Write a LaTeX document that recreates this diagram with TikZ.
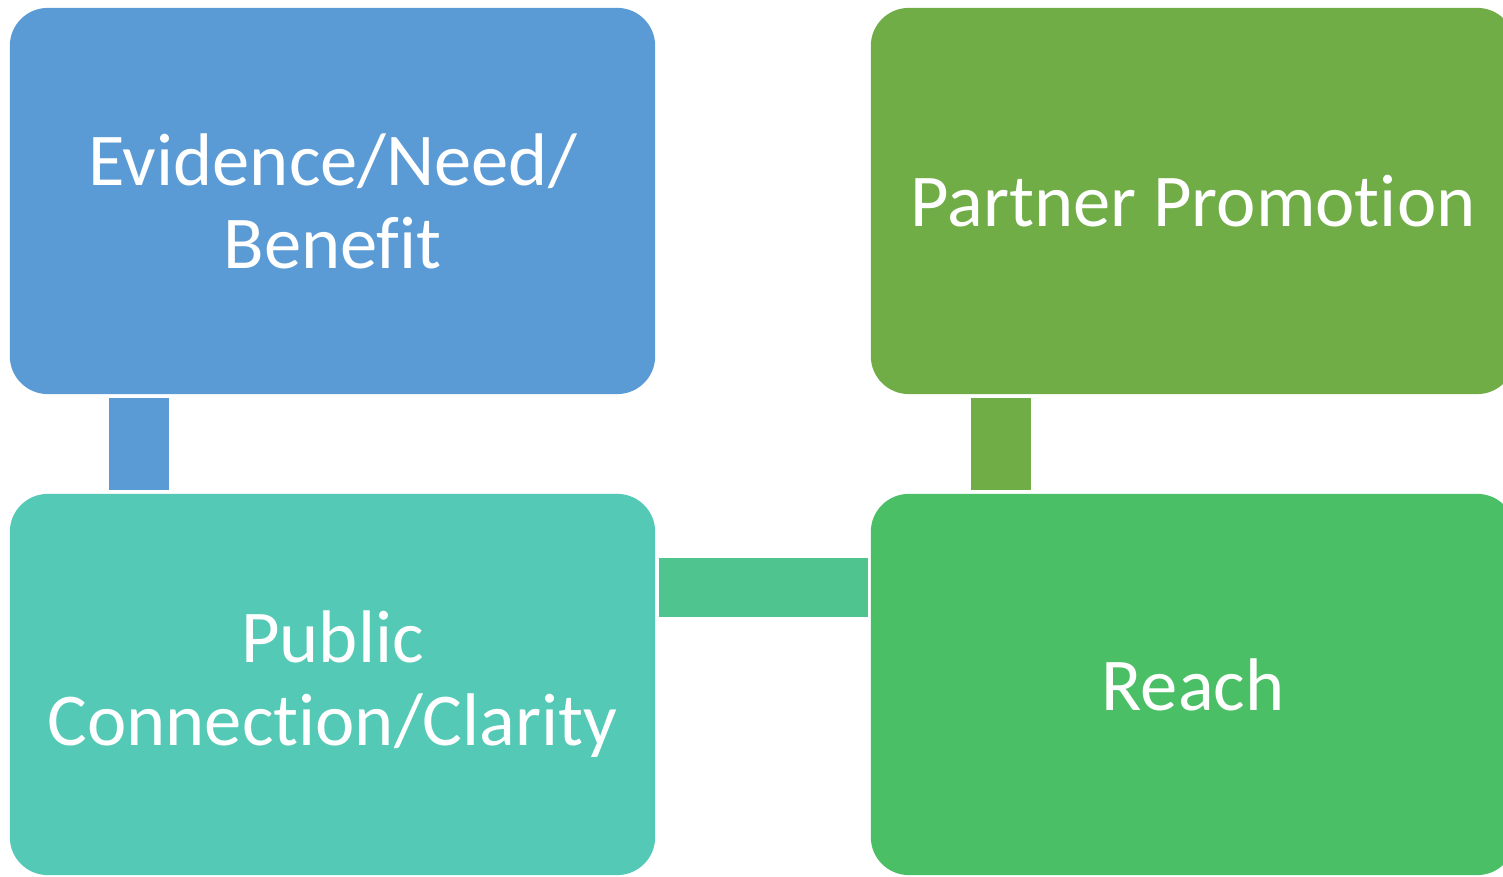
\documentclass[tikz,border=0pt]{standalone}
\usepackage{fontspec}
\setmainfont{Carlito}[Ligatures=NoCommon]
\definecolor{evidblue}{HTML}{5B9BD5}
\definecolor{partgreen}{HTML}{70AD47}
\definecolor{pubteal}{HTML}{53C9B6}
\definecolor{reachgreen}{HTML}{4ABF65}
\definecolor{linkgreen}{HTML}{4FC48F}
\tikzset{
    stagebox/.style={rounded corners=0.38cm, minimum width=6.45cm, inner sep=0pt,
        text=white, align=center, font=\fontsize{21.2}{23.6}\selectfont},
    link/.style={line width=0.6cm, line cap=butt}
}
\begin{document}
\begin{tikzpicture}[x=0.01cm,y=-0.01cm]
    \useasboundingbox (0,0) rectangle (1503,877);
    \clip (0,0) rectangle (1503,877);
    \node[stagebox, fill=evidblue, minimum height=3.86cm] (evid) at (332.5,201) {Evidence/Need/\\Benefit};
    \node[stagebox, fill=partgreen, minimum height=3.86cm, minimum width=6.44cm] (part) at (1193,201) {Partner Promotion};
    \node[stagebox, fill=pubteal, minimum height=3.81cm] (pub) at (332.5,684.5) {Public\\Connection/Clarity};
    \node[stagebox, fill=reachgreen, minimum height=3.81cm, minimum width=6.44cm] (reach) at (1193,684.5) {Reach};
    \draw[link, draw=evidblue]([xshift=1.3cm,yshift=-0.03cm]evid.south west)--([xshift=1.3cm,yshift=0.03cm]pub.north west);
    \draw[link, draw=partgreen]([xshift=1.305cm,yshift=-0.03cm]part.south west)--([xshift=1.305cm,yshift=0.03cm]reach.north west);
    \draw[link, line width=0.59cm, draw=linkgreen]([xshift=0.03cm,yshift=-0.945cm]pub.north east)--([xshift=-0.02cm,yshift=-0.945cm]reach.north west);
\end{tikzpicture}
\end{document}
